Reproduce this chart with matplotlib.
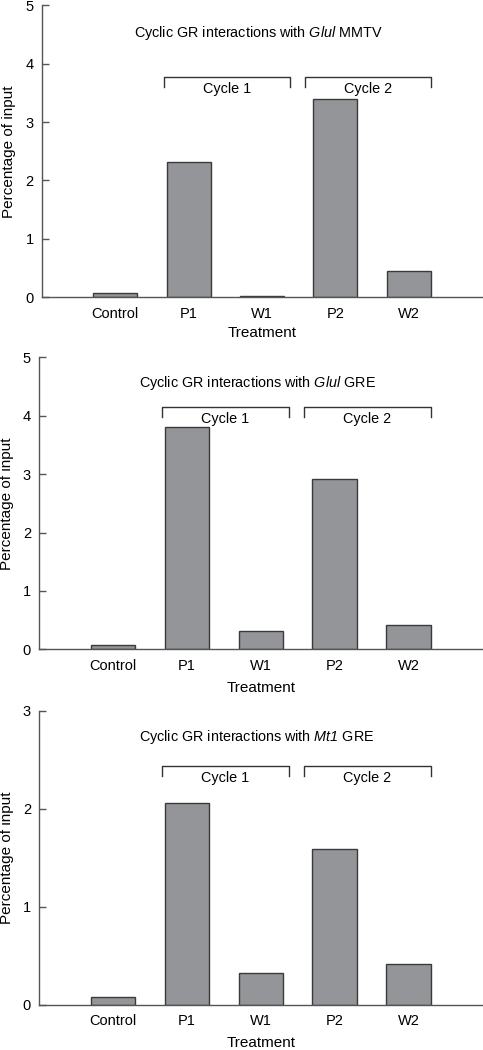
import numpy as np
import matplotlib.pyplot as plt

plt.rcParams['font.family'] = ['Liberation Sans', 'DejaVu Sans']
plt.rcParams['mathtext.fontset'] = 'custom'
plt.rcParams['mathtext.rm'] = 'Liberation Sans'
plt.rcParams['mathtext.sf'] = 'Liberation Sans:italic'

# data
treatments = ['Control', 'P1', 'W1', 'P2', 'W2']
glul_mmtv = [0.08, 2.32, 0.03, 3.39, 0.45]
glul_gre = [0.08, 3.81, 0.32, 2.91, 0.42]
mt1_gre = [0.08, 2.06, 0.32, 1.59, 0.42]

titles = [('Glul', 'MMTV'), ('Glul', 'GRE'), ('Mt1', 'GRE')]
ymaxes = [5, 5, 3]

# axes rectangles in figure fractions
rects = [[0.087, 0.7169, 0.911, 0.278],
         [0.0814, 0.3816, 0.917, 0.278],
         [0.0814, 0.0431, 0.917, 0.280]]
# bracket heights / title heights as fractions of ymax
bracket_y = [0.754, 0.830, 0.813]
title_y = [0.904, 0.914, 0.910]
xlabel_y = [-0.124, -0.1325, -0.131]

bar_color = '#939598'
edge_color = '#3a3a3a'
axis_color = '#555555'

fig = plt.figure(figsize=(4.83, 10.5), dpi=100)

for i, vals in enumerate([glul_mmtv, glul_gre, mt1_gre]):
    ax = fig.add_axes(rects[i])
    x = np.arange(len(treatments))
    ax.bar(x, vals, width=0.6, color=bar_color, edgecolor=edge_color,
           linewidth=1.0, zorder=2)
    ymax = ymaxes[i]
    ax.set_xlim(-1, 5)
    ax.set_ylim(0, ymax)
    ax.set_yticks(range(0, ymax + 1))
    ax.set_xticks(x)
    ax.set_xticklabels(treatments, fontsize=10.5)
    ax.tick_params(axis='x', length=0, pad=7)
    ax.tick_params(axis='y', direction='in', length=5, width=1,
                   color=axis_color, labelsize=10.5, pad=6)
    for s in ['top', 'right']:
        ax.spines[s].set_visible(False)
    for s in ['left', 'bottom']:
        ax.spines[s].set_color(axis_color)
        ax.spines[s].set_linewidth(1.0)
    ax.set_ylabel('Percentage of input', fontsize=11, va='center')
    ax.set_xlabel('Treatment', fontsize=11, va='center')
    ax.yaxis.set_label_coords(-0.074, 0.5)
    ax.xaxis.set_label_coords(0.5, xlabel_y[i])

    # title with italic gene name
    gene, elem = titles[i]
    ax.text(1.95, title_y[i] * ymax,
            r'Cyclic GR interactions with $\mathsf{' + gene + '}$ ' + elem,
            ha='center', va='center', fontsize=10.4)

    # cycle brackets
    by = bracket_y[i] * ymax
    drop = 0.035 * ymax
    for (x0, x1, lab) in [(0.66, 2.38, 'Cycle 1'), (2.58, 4.31, 'Cycle 2')]:
        ax.plot([x0, x0, x1, x1], [by - drop, by, by, by - drop],
                color='#333333', linewidth=1.0, clip_on=False)
        ax.text((x0 + x1) / 2, by - drop * 1.15, lab, ha='center',
                va='center', fontsize=10.4)

fig.savefig('out.png', dpi=100)
